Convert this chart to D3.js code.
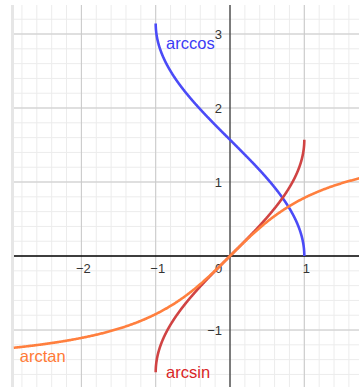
<!DOCTYPE html>
<html>
<head>
<meta charset="utf-8">
<script src="https://cdn.jsdelivr.net/npm/d3@7"></script>
<style>
  body { margin: 0; background: #fff; }
  svg { display: block; }
</style>
</head>
<body>
<div id="chart"></div>
<script>
// chart data
const xTicks = [-2, -1, 0, 1];
const yTicks = [-1, 1, 2, 3];
const curveNames = ["arccos", "arcsin", "arctan"];
const curveFns = [Math.acos, Math.asin, Math.atan];
const curveDomains = [[-1, 1], [-1, 1], [-2.91, 1.74]];
const curveColors = ["#4b4bf7", "#d04343", "#ff7f3e"];
const labelColors = ["#3b3bf5", "#d92626", "#ff7a36"];
// label anchor in data units
const labelPos = [[-0.86, 2.8], [-0.86, -1.65], [-2.83, -1.43]];

const width = 359, height = 387;
const plot = { left: 14, top: 5, right: 359, bottom: 387 };

const x = d3.scaleLinear()
    .domain([-2.907, 1.736])
    .range([plot.left, plot.right]);
const y = d3.scaleLinear()
    .domain([3.392, -1.77])
    .range([plot.top, plot.bottom]);

const svg = d3.select("#chart").append("svg")
    .attr("width", width)
    .attr("height", height)
    .style("font-family", "'Liberation Sans', Arial, sans-serif");

// left edge strip
svg.append("rect")
    .attr("x", 11).attr("y", plot.top)
    .attr("width", 3).attr("height", plot.bottom - plot.top)
    .attr("fill", "#e6e6e6");

// minor grid
const grid = svg.append("g");
grid.selectAll(".vminor")
    .data(d3.range(-14, 9).map(i => i / 5))
    .join("line")
    .attr("x1", d => x(d)).attr("x2", d => x(d))
    .attr("y1", plot.top).attr("y2", plot.bottom)
    .attr("stroke", "#ececec").attr("stroke-width", 1);
grid.selectAll(".hminor")
    .data(d3.range(-8, 17).map(i => i / 5))
    .join("line")
    .attr("x1", plot.left).attr("x2", plot.right)
    .attr("y1", d => y(d)).attr("y2", d => y(d))
    .attr("stroke", "#ececec").attr("stroke-width", 1);

// major grid
grid.selectAll(".vmajor")
    .data([-2, -1, 1])
    .join("line")
    .attr("x1", d => x(d)).attr("x2", d => x(d))
    .attr("y1", plot.top).attr("y2", plot.bottom)
    .attr("stroke", "#c9c9c9").attr("stroke-width", 1);
grid.selectAll(".hmajor")
    .data([-1, 1, 2, 3])
    .join("line")
    .attr("x1", plot.left).attr("x2", plot.right)
    .attr("y1", d => y(d)).attr("y2", d => y(d))
    .attr("stroke", "#c9c9c9").attr("stroke-width", 1);

// axes lines
svg.append("line")
    .attr("x1", x(0)).attr("x2", x(0))
    .attr("y1", plot.top).attr("y2", plot.bottom)
    .attr("stroke", "#3a3a3a").attr("stroke-width", 1.3);
svg.append("line")
    .attr("x1", plot.left).attr("x2", plot.right)
    .attr("y1", y(0)).attr("y2", y(0))
    .attr("stroke", "#000").attr("stroke-width", 1.5);

// tick labels
const xAxis = svg.append("g")
    .attr("transform", `translate(0,${y(0)})`)
    .call(d3.axisBottom(x).tickValues(xTicks).tickSize(0).tickPadding(8).tickFormat(d3.format("d")));
xAxis.select(".domain").remove();
xAxis.selectAll("text")
    .attr("font-family", "'Liberation Sans', Arial, sans-serif")
    .attr("font-size", "13px")
    .attr("fill", "#333")
    .attr("dx", d => d === 0 ? -12 : 1.5);

const yAxis = svg.append("g")
    .attr("transform", `translate(${x(0)},0)`)
    .call(d3.axisLeft(y).tickValues(yTicks).tickSize(0).tickPadding(8).tickFormat(d3.format("d")));
yAxis.select(".domain").remove();
yAxis.selectAll("text")
    .attr("font-family", "'Liberation Sans', Arial, sans-serif")
    .attr("font-size", "13px")
    .attr("fill", "#333");

// curves
const line = d3.line().x(d => x(d[0])).y(d => y(d[1]));
curveNames.forEach((name, i) => {
    const [a, b] = curveDomains[i];
    const n = 400;
    const pts = d3.range(n + 1).map(k => {
        // denser samples near the ends for the inverse sine/cosine
        let t = k / n;
        if (i < 2) t = (1 - Math.cos(Math.PI * t)) / 2;
        const xv = a + (b - a) * t;
        return [xv, curveFns[i](xv)];
    });
    svg.append("path")
        .datum(pts)
        .attr("d", line)
        .attr("fill", "none")
        .attr("stroke", curveColors[i])
        .attr("stroke-width", 2.6);
});

// curve labels
svg.append("g")
    .selectAll("text")
    .data(curveNames)
    .join("text")
    .attr("x", (d, i) => x(labelPos[i][0]))
    .attr("y", (d, i) => y(labelPos[i][1]))
    .attr("fill", (d, i) => labelColors[i])
    .attr("font-size", "16.5px")
    .text(d => d);
</script>
</body>
</html>
